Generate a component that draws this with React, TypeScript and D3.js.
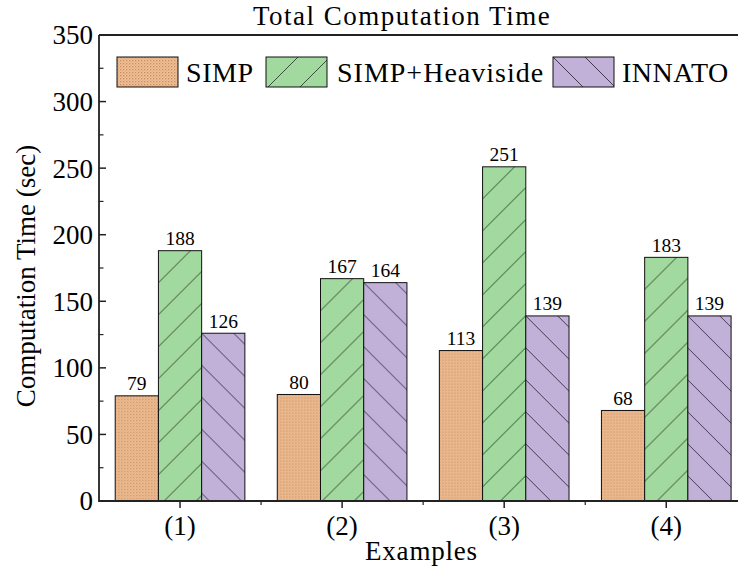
import React from "react";
import * as d3 from "d3";

const categories = ["(1)", "(2)", "(3)", "(4)"];
const seriesNames = ["SIMP", "SIMP+Heaviside", "INNATO"];
const simp = [79, 80, 113, 68];
const simpHeaviside = [188, 167, 251, 183];
const innato = [126, 164, 139, 139];
const yTicks = [0, 50, 100, 150, 200, 250, 300, 350];

const W = 738;
const H = 569;
const FONT = "Liberation Serif, Tinos, Times New Roman, DejaVu Serif, serif";

const fills = ["#efbb8f", "#a1d99e", "#c1b1d9"];

export default function App() {
  const seriesValues = [simp, simpHeaviside, innato];
  const x = d3.scaleBand<string>().domain(categories).range([99, 747.3]).paddingInner(0).paddingOuter(0);
  const inner = d3
    .scaleBand<string>()
    .domain(seriesNames)
    .range([x.bandwidth() * 0.1, x.bandwidth() * 0.9])
    .padding(0);
  const y = d3.scaleLinear().domain([0, 350]).range([501, 35]);
  const bw = inner.bandwidth();

  const bars: { id: string; s: number; c: number; x: number; y: number; w: number; h: number; v: number }[] = [];
  categories.forEach((c, ci) => {
    seriesNames.forEach((s, si) => {
      const v = seriesValues[si][ci];
      const bx = (x(c) as number) + (inner(s) as number);
      bars.push({ id: `bar-${si}-${ci}`, s: si, c: ci, x: bx, y: y(v), w: bw, h: y(0) - y(v), v });
    });
  });

  const legendItems = [
    { sx: 117, tx: 186, ls: 0.6 },
    { sx: 266, tx: 337, ls: 1.0 },
    { sx: 553, tx: 622, ls: 0.5 },
  ];

  const makePattern = (id: string, si: number, px: number, py: number) => {
    if (si === 0) {
      return (
        <pattern key={id} id={id} patternUnits="userSpaceOnUse" x={px} y={py} width={3} height={3}>
          <rect width={3} height={3} fill="#f1c29a" />
          <rect x={0} y={0} width={1.3} height={1.3} fill="#c98a5a" />
          <rect x={1.5} y={1.5} width={1.2} height={1.2} fill="#dc9f72" />
        </pattern>
      );
    }
    const p = 32;
    if (si === 1) {
      return (
        <pattern key={id} id={id} patternUnits="userSpaceOnUse" x={px} y={py} width={p} height={p}>
          <rect width={p} height={p} fill={fills[1]} />
          <path d={`M-1,${p + 1}L${p + 1},-1M-1,1L1,-1M${p - 1},${p + 1}L${p + 1},${p - 1}`} stroke="#1f2b1f" strokeWidth={0.8} />
        </pattern>
      );
    }
    return (
      <pattern key={id} id={id} patternUnits="userSpaceOnUse" x={px} y={py} width={p} height={p}>
        <rect width={p} height={p} fill={fills[2]} />
        <path d={`M-1,-1L${p + 1},${p + 1}M${p - 1},-1L${p + 1},1M-1,${p - 1}L1,${p + 1}`} stroke="#1f1a2b" strokeWidth={0.8} />
      </pattern>
    );
  };

  const yMinor = d3.range(25, 350, 50);
  const xMinor = categories.slice(1).map((c) => x(c) as number);

  return (
    <svg width={W} height={H} style={{ display: "block", position: "absolute", left: 0, top: 0, background: "#fff", fontFamily: FONT }}>
      <defs>
        {bars.map((b) => makePattern(`p-${b.id}`, b.s, b.x, b.y))}
        {legendItems.map((l, i) => makePattern(`p-leg-${i}`, i, l.sx, 57))}
      </defs>
      <rect width={W} height={H} fill="#fff" />
      <text x={253} y={25} fontSize={27} letterSpacing={1.5} style={{ fontFamily: FONT }}>
        Total Computation Time
      </text>

      {bars.map((b) => (
        <g key={b.id}>
          <rect x={b.x} y={b.y} width={b.w} height={b.h} fill={`url(#p-${b.id})`} stroke="#111" strokeWidth={1} />
          <text x={b.x + b.w / 2} y={b.y - 5.5} textAnchor="middle" fontSize={19.5} style={{ fontFamily: FONT }}>
            {b.v}
          </text>
        </g>
      ))}

      <path d={`M99,${y(350)}H750`} stroke="#222" strokeWidth={1.8} fill="none" />
      <path d={`M99,${y(350)}V${y(0)}H750`} stroke="#222" strokeWidth={1.8} fill="none" />

      {yTicks.map((t) => (
        <g key={`yt-${t}`}>
          <line x1={99} x2={106} y1={y(t)} y2={y(t)} stroke="#222" strokeWidth={1.5} />
          <text x={93} y={y(t)} dy="0.35em" textAnchor="end" fontSize={27} style={{ fontFamily: FONT }}>
            {t}
          </text>
        </g>
      ))}
      {yMinor.map((t) => (
        <line key={`ym-${t}`} x1={99} x2={103.5} y1={y(t)} y2={y(t)} stroke="#222" strokeWidth={1.2} />
      ))}

      {categories.map((c) => {
        const cx = (x(c) as number) + x.bandwidth() / 2;
        return (
          <g key={`xt-${c}`}>
            <line x1={cx} x2={cx} y1={y(0)} y2={y(0) + 7} stroke="#222" strokeWidth={1.5} />
            <text x={cx} y={535} textAnchor="middle" fontSize={27} style={{ fontFamily: FONT }}>
              {c}
            </text>
          </g>
        );
      })}
      {xMinor.map((mx, i) => (
        <line key={`xm-${i}`} x1={mx} x2={mx} y1={y(0)} y2={y(0) + 4} stroke="#222" strokeWidth={1.2} />
      ))}

      <text x={365} y={560} fontSize={27} letterSpacing={0.8} style={{ fontFamily: FONT }}>
        Examples
      </text>
      <text transform={`translate(35,276) rotate(-90)`} textAnchor="middle" fontSize={27} style={{ fontFamily: FONT }}>
        Computation Time (sec)
      </text>

      {legendItems.map((l, i) => (
        <g key={`leg-${i}`}>
          <rect x={l.sx} y={57} width={61} height={30} fill={`url(#p-leg-${i})`} stroke="#111" strokeWidth={1} />
          <text x={l.tx} y={81.5} fontSize={28} letterSpacing={l.ls} style={{ fontFamily: FONT }}>
            {seriesNames[i]}
          </text>
        </g>
      ))}
    </svg>
  );
}
